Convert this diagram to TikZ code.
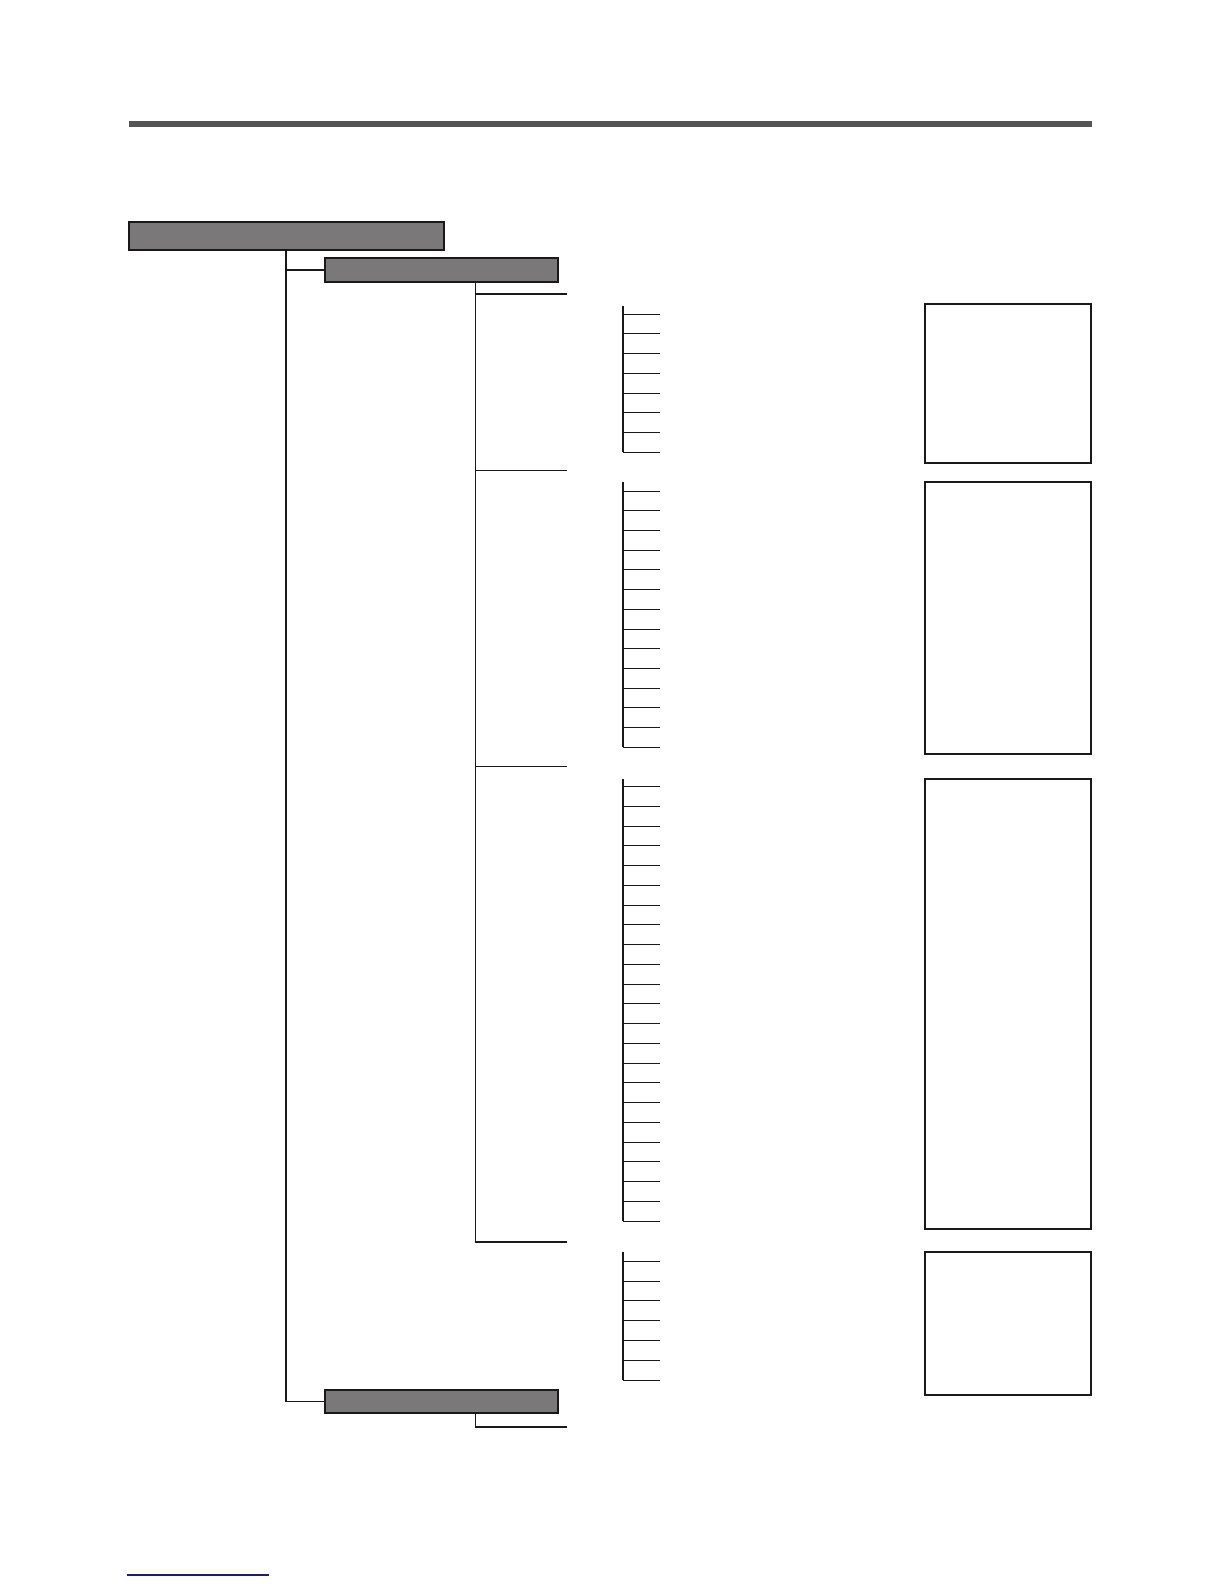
\documentclass[tikz,border=0pt]{standalone}
\definecolor{boxgray}{HTML}{7A7878}
\definecolor{bargray}{HTML}{555555}
\definecolor{linkblue}{HTML}{1A1A8C}
\tikzset{
  px/.style={x=0.75pt,y=-0.75pt},
  gbox/.style={draw=black!90,fill=boxgray,line width=0.8pt,inner sep=0pt,outer sep=0pt,anchor=north west},
  wbox/.style={draw=black!90,fill=white,line width=0.8pt,inner sep=0pt,outer sep=0pt,anchor=north west},
  conn/.style={draw=black!90,line width=0.8pt},
  ladder/.style={draw=black!90,line width=1.6pt},
  rung/.style={draw=black!90,line width=0.75pt}
}
\begin{document}
\begin{tikzpicture}[px]
\useasboundingbox (0,0) rectangle (1224,1584);
% top rule
\fill[bargray] (129,121) rectangle (1092,127);
% grey header boxes
\node[gbox,line width=1.3pt,minimum width=315*0.75pt,minimum height=28*0.75pt] (b1) at (129,222) {};
\node[gbox,minimum width=233*0.75pt,minimum height=24*0.75pt] (b2) at (325,258) {};
\node[gbox,minimum width=233*0.75pt,minimum height=23*0.75pt] (b5) at (325,1390) {};
% right-hand boxes
\node[wbox,minimum width=166*0.75pt,minimum height=159*0.75pt] (r1) at (925,304) {};
\node[wbox,minimum width=166*0.75pt,minimum height=272*0.75pt] (r2) at (925,482) {};
\node[wbox,minimum width=166*0.75pt,minimum height=450*0.75pt] (r3) at (925,779) {};
\node[wbox,minimum width=166*0.75pt,minimum height=143*0.75pt] (r4) at (925,1252) {};
% connectors from b1
\coordinate (m1) at (286,0);
\draw[conn] (b1.south -| m1) -- (b5.west -| m1) -- (b5.west);
\draw[conn] (b2.west -| m1) -- (b2.west);
% connectors from b2
\coordinate (g1) at (567,294);
\coordinate (g2) at (567,470.6);
\coordinate (g3) at (567,766.5);
\coordinate (g4) at (567,1242);
\coordinate (v2) at (475.5,0);
\draw[conn] (b2.south -| v2) -- (g4 -| v2) -- (g4);
\draw[conn] (g1 -| v2) -- (g1);
\draw[conn] (g2 -| v2) -- (g2);
\draw[conn] (g3 -| v2) -- (g3);
% connector from b5
\coordinate (g5) at (567,1427);
\draw[conn,line width=1.2pt] (b5.south -| v2) -- (g5 -| v2) -- (g5);
% ladders
\draw[ladder] (623,306) -- (623,452.3);
\foreach \i in {0,...,7} \draw[rung] (623,314+19.75*\i) -- (660,314+19.75*\i);
\draw[ladder] (623,482) -- (623,747.4);
\foreach \i in {0,...,13} \draw[rung] (623,491+19.72*\i) -- (660,491+19.72*\i);
\draw[ladder] (623,779) -- (623,1221.2);
\foreach \i in {0,...,22} \draw[rung] (623,786.7+19.75*\i) -- (660,786.7+19.75*\i);
\draw[ladder] (623,1252) -- (623,1380.3);
\foreach \i in {0,...,6} \draw[rung] (623,1261.3+19.83*\i) -- (660,1261.3+19.83*\i);
% bottom link line
\draw[linkblue,line width=1pt] (127,1575) -- (269,1575);
\end{tikzpicture}
\end{document}
